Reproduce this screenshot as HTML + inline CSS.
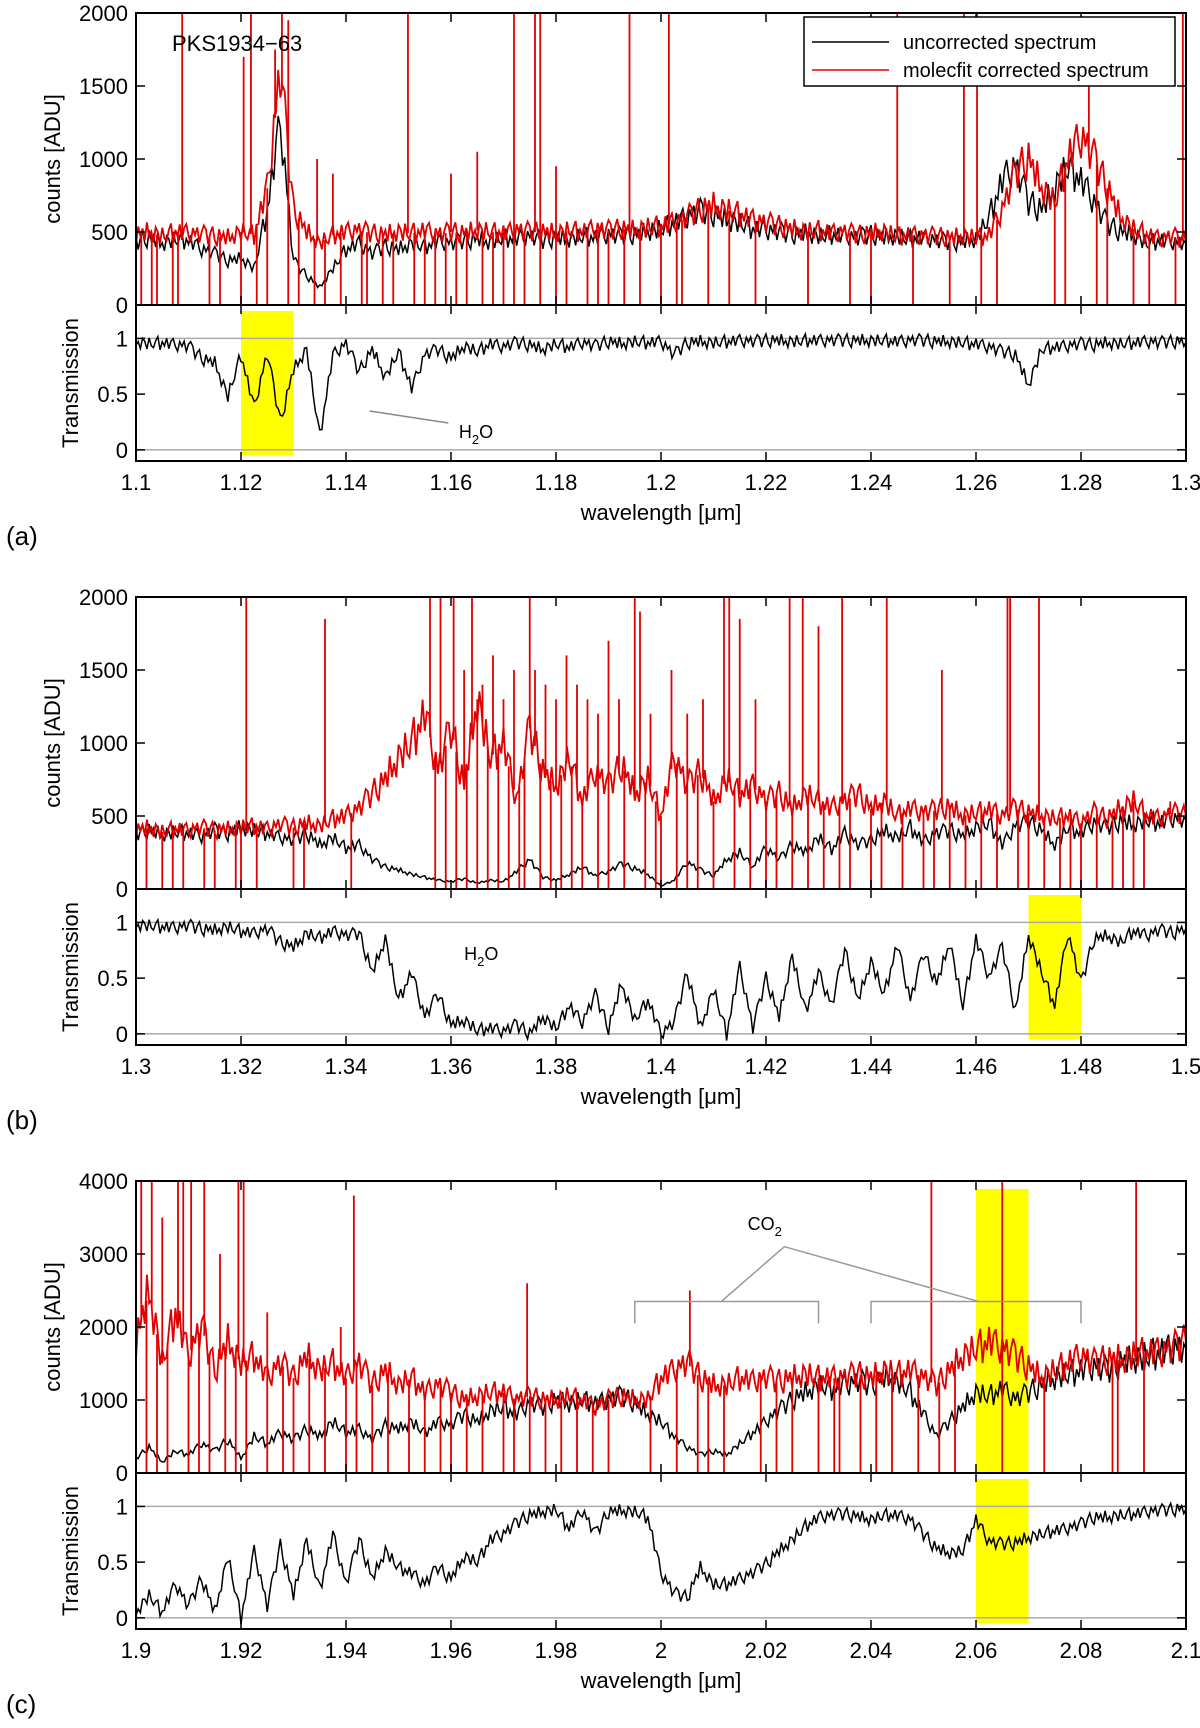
<!DOCTYPE html>
<html><head><meta charset="utf-8"><style>
html,body{margin:0;padding:0;background:#fff;}
svg{display:block;font-family:"Liberation Sans",sans-serif;}
</style></head><body>
<svg id="fig" width="1200" height="1728" viewBox="0 0 1200 1728" xmlns="http://www.w3.org/2000/svg"></svg>
<script>
// ---------- DATA ----------
const aRange=[1.1,1.3], bRange=[1.3,1.5], cRange=[1.9,2.1];
const aTicks=["1.1","1.12","1.14","1.16","1.18","1.2","1.22","1.24","1.26","1.28","1.3"];
const bTicks=["1.3","1.32","1.34","1.36","1.38","1.4","1.42","1.44","1.46","1.48","1.5"];
const cTicks=["1.9","1.92","1.94","1.96","1.98","2","2.02","2.04","2.06","2.08","2.1"];
const abCountTicks=[0,500,1000,1500,2000];
const cCountTicks=[0,1000,2000,3000,4000];
const transTicks=[0,0.5,1];

const aTrans=[.97,.95,.96,.94,.93,.82,.78,.48,.85,.38,.86,.25,.72,.9,.12,.85,.95,.7,.9,.65,.88,.55,.85,.9,.82,.93,.88,.95,.92,.96,.94,.9,.95,.92,.96,.93,.97,.95,.97,.96,.97,.85,.96,.97,.96,.97,.98,.97,.98,.98,.97,.98,.98,.98,.98,.98,.98,.98,.97,.98,.98,.97,.97,.96,.95,.92,.88,.85,.58,.9,.92,.93,.95,.94,.96,.95,.96,.97,.96,.97,.97];
const aBlack=[430,460,420,450,440,380,350,300,320,250,650,1250,300,200,120,250,380,420,350,400,380,420,400,430,420,440,450,430,460,450,470,440,460,450,470,460,480,470,480,500,520,560,600,640,620,580,560,520,510,500,480,490,470,480,470,460,480,460,470,450,460,440,430,430,450,600,850,950,700,650,800,950,850,700,550,500,480,420,440,430,420];
const aRed=[480,500,470,500,490,480,470,460,500,480,800,1600,650,500,420,480,500,510,490,480,500,490,510,480,500,490,510,500,490,510,500,500,490,510,500,520,510,520,510,530,540,560,600,650,680,650,620,580,560,540,520,500,510,490,500,480,490,500,470,480,470,470,460,470,460,480,650,900,1000,800,700,1000,1150,1000,800,600,520,480,450,470,430];
const aSpikeWl=[1.1088,1.1205,1.1219,1.1265,1.1278,1.129,1.1345,1.1375,1.1518,1.16,1.165,1.172,1.176,1.177,1.18,1.194,1.2015,1.245,1.2577,1.2602,1.27,1.2815,1.2994];
const aSpikeVal=[2000,1700,2000,1750,2000,1950,1000,900,2000,900,1050,2000,2000,2000,950,2000,2000,2000,2000,2000,1050,1500,2000];
const aDips=[1.101,1.103,1.104,1.107,1.108,1.114,1.116,1.12,1.123,1.125,1.129,1.131,1.134,1.136,1.139,1.143,1.144,1.147,1.149,1.153,1.155,1.157,1.159,1.161,1.163,1.166,1.168,1.17,1.172,1.174,1.177,1.18,1.182,1.186,1.188,1.19,1.193,1.196,1.2,1.203,1.204,1.209,1.213,1.218,1.228,1.236,1.24,1.248,1.255,1.261,1.264,1.275,1.277,1.283,1.285,1.29,1.293,1.298];

const bTrans=[.98,.97,.96,.95,.97,.94,.93,.96,.92,.9,.94,.82,.78,.9,.86,.92,.88,.9,.55,.85,.3,.55,.15,.35,.08,.12,.03,.05,.02,.08,.0,.15,.05,.25,.1,.35,.05,.45,.12,.3,.0,.1,.55,.05,.4,.0,.6,.05,.5,.15,.7,.2,.55,.25,.75,.3,.65,.35,.8,.3,.72,.45,.82,.25,.85,.5,.78,.2,.88,.55,.25,.9,.45,.85,.88,.82,.92,.88,.93,.9,.95];
const bBlack=[380,400,370,390,380,360,400,380,420,400,380,350,330,380,300,350,280,300,200,150,130,100,80,60,50,70,40,60,50,120,200,80,60,100,150,90,120,170,140,100,20,60,180,130,90,200,250,150,280,200,300,250,350,270,380,300,330,400,350,420,320,380,400,360,420,450,300,430,460,400,300,420,380,450,420,460,440,470,450,480,470];
const bRed=[400,420,390,410,400,420,400,410,420,430,410,440,420,450,430,480,500,550,650,750,900,1000,1200,800,1100,700,1300,900,1000,600,1100,800,700,900,600,800,700,850,650,750,500,900,700,800,600,750,650,700,600,650,550,650,600,550,600,650,550,600,500,550,520,540,560,500,520,540,500,550,520,500,480,500,450,520,480,550,600,500,480,520,500];
const bSpikeWl=[1.321,1.336,1.356,1.358,1.3605,1.3625,1.364,1.366,1.368,1.37,1.372,1.375,1.376,1.378,1.38,1.382,1.384,1.386,1.388,1.39,1.392,1.395,1.396,1.398,1.402,1.405,1.408,1.412,1.413,1.415,1.418,1.4245,1.427,1.43,1.4345,1.443,1.4535,1.466,1.4665,1.472,1.497];
const bSpikeVal=[2000,1850,2000,2000,2000,1500,2000,1400,1600,1300,1500,2000,1500,1400,1300,1600,1400,1300,1200,1700,1300,2000,1900,1200,1500,1200,1300,2000,2000,1850,1300,2000,2000,1800,2000,2000,1500,2000,2000,2000,600];
const bDips=[1.3,1.302,1.305,1.307,1.309,1.313,1.315,1.319,1.32,1.323,1.33,1.332,1.341,1.357,1.359,1.361,1.363,1.365,1.367,1.369,1.371,1.373,1.374,1.377,1.379,1.381,1.383,1.385,1.388,1.39,1.393,1.397,1.399,1.4,1.403,1.405,1.407,1.41,1.414,1.417,1.42,1.422,1.425,1.428,1.431,1.434,1.436,1.44,1.442,1.446,1.45,1.452,1.455,1.458,1.461,1.464,1.468,1.47,1.473,1.476,1.478,1.48,1.483,1.486,1.488,1.49,1.492];

const cTrans=[.05,.2,.05,.3,.1,.35,.05,.55,.0,.6,.1,.65,.2,.7,.25,.75,.3,.7,.35,.6,.45,.4,.3,.45,.35,.55,.5,.7,.75,.85,.92,.95,.97,.8,.96,.75,.95,.96,.95,.9,.4,.22,.18,.45,.3,.3,.35,.4,.48,.6,.7,.82,.9,.92,.93,.91,.88,.92,.92,.88,.75,.62,.58,.6,.88,.68,.66,.67,.72,.75,.78,.8,.84,.9,.9,.92,.93,.95,.96,.97,.98];
const cBlack=[200,350,150,300,250,400,300,450,200,500,400,550,450,600,500,700,550,600,450,650,600,700,550,700,650,800,700,850,900,800,950,900,1000,950,1000,950,1000,1050,950,800,700,500,350,250,300,250,400,550,700,850,1000,1100,1200,1150,1200,1250,1200,1300,1250,1100,800,500,700,900,1100,1050,1150,1000,1100,1200,1300,1350,1400,1450,1400,1500,1550,1600,1650,1700,1700];
const cRed=[1800,2500,1500,2200,1600,2000,1400,1800,1500,1600,1300,1500,1300,1600,1400,1500,1300,1500,1200,1400,1200,1300,1100,1200,1100,1000,1050,1100,1100,1000,1050,1000,1000,1050,1000,900,1000,1050,1000,1000,1300,1400,1500,1300,1200,1200,1300,1250,1300,1250,1300,1350,1300,1300,1300,1350,1300,1400,1350,1400,1300,1200,1400,1600,1700,1800,1700,1600,1450,1300,1400,1500,1600,1500,1550,1550,1600,1650,1650,1700,1800];
const cSpikeWl=[1.901,1.903,1.905,1.908,1.909,1.9105,1.913,1.916,1.9195,1.9205,1.925,1.939,1.9415,1.9745,2.0055,2.0515,2.065,2.0905];
const cSpikeVal=[4000,4000,3500,4000,4000,4000,4000,3000,4000,4000,2200,2000,3800,2600,2500,4000,4000,4000];
const cDips=[1.902,1.904,1.906,1.91,1.912,1.914,1.917,1.919,1.921,1.925,1.928,1.93,1.933,1.936,1.94,1.942,1.945,1.948,1.952,1.955,1.958,1.96,1.963,1.966,1.97,1.972,1.975,1.978,1.981,1.984,1.987,1.99,1.998,2.003,2.007,2.009,2.012,2.019,2.022,2.025,2.03,2.033,2.034,2.038,2.041,2.044,2.049,2.053,2.056,2.065,2.073,2.086,2.087,2.092];
// hand-typed fine structure shared by the sampled curves
const fineTexture=[0.6,-0.9,0.3,1,-0.4,-1,0.8,-0.2,0.5,-0.7,1,-0.5,0.1,-0.9,0.7,0.3,-0.8,0.9,-0.3,-0.6,0.4,1,-1,0.2,-0.4,0.8,-0.7,0.5,0.9,-0.2,-0.9,0.6,-0.1,0.7,-0.8,0.3,1];

// ---------- DRAW ----------
const NS="http://www.w3.org/2000/svg";
const svg=document.getElementById('fig');
function mk(tag,attrs,parent,txt){const e=document.createElementNS(NS,tag);for(const k in attrs)e.setAttribute(k,attrs[k]);if(txt!==undefined)e.textContent=txt;(parent||svg).appendChild(e);return e;}
const L=136,R=1186,SUB=6;

function panel(T,range,ticks,cTicksArr,cMax,trans,black,red,spW,spV,dips,hl,label,key){
  const g=mk('g',{});
  
  
  const x=w=>L+(w-range[0])/(range[1]-range[0])*(R-L);
  const cy=v=>T+292-v/cMax*292;
  const ty=v=>T+292+(1.3-v)/1.4*156;
  const interp=(arr,w)=>{const n=arr.length;const f=(w-range[0])/(range[1]-range[0])*(n-1);const i=Math.max(0,Math.min(n-2,Math.floor(f)));const t=f-i;return arr[i]*(1-t)+arr[i+1]*t;};
  const hT=mk('rect',{x:x(hl[0]),y:T+298,width:x(hl[1])-x(hl[0]),height:144,fill:'#ffff00'},g);
  
  
  if(hl[2]){const hc=mk('rect',{x:x(hl[0]),y:T+8,width:x(hl[1])-x(hl[0]),height:284,fill:'#ffff00'},g);
    
    }
  const cid='clip'+key;
  const cp=mk('clipPath',{id:cid},g);mk('rect',{x:L,y:T,width:R-L,height:292},cp);
  // detailed sampling: data values plus fine structure
  const pts=(arr,f,amp,absAmp,off)=>{const out=[];const n=arr.length;
    for(let i=0;i<n-1;i++){for(let k=0;k<SUB;k++){const t=k/SUB;const v=arr[i]*(1-t)+arr[i+1]*t;
      const tex=fineTexture[(i*SUB+k+off)%fineTexture.length];
      const vv=v+tex*(amp*v+absAmp);
      out.push([x(range[0]+(i+t)*(range[1]-range[0])/(n-1)),f(vv)]);}}
    out.push([x(range[1]),f(arr[n-1])]);return out;};
  const bl=mk('polyline',{points:pts(black,cy,0.14,0,0).map(p=>p.join(',')).join(' '),fill:'none',stroke:'#000','stroke-width':1.5,'clip-path':'url(#'+cid+')'},g);
  
  
  const rl=mk('polyline',{points:pts(red,cy,0.14,0,5).map(p=>p.join(',')).join(' '),fill:'none',stroke:'#e00000','stroke-width':1.8,'clip-path':'url(#'+cid+')'},g);
  
  
  let d='';
  spW.forEach((w,i)=>{d+='M'+x(w)+','+cy(interp(red,w))+'V'+cy(spV[i]);});
  dips.forEach(w=>{d+='M'+x(w)+','+cy(interp(red,w))+'V'+cy(0);});
  const sp=mk('path',{d:d,stroke:'#e00000','stroke-width':1.8,fill:'none','clip-path':'url(#'+cid+')'},g);
  
  
  mk('line',{x1:L,x2:R,y1:ty(1),y2:ty(1),stroke:'#aaa','stroke-width':1.5},g);
  mk('line',{x1:L,x2:R,y1:ty(0),y2:ty(0),stroke:'#aaa','stroke-width':1.5},g);
  const tl=mk('polyline',{points:pts(trans,ty,0,0.06,11).map(p=>p.join(',')).join(' '),fill:'none',stroke:'#000','stroke-width':1.5},g);
  
  
  mk('rect',{x:L,y:T,width:R-L,height:292,fill:'none',stroke:'#000','stroke-width':2},g);
  mk('rect',{x:L,y:T+292,width:R-L,height:156,fill:'none',stroke:'#000','stroke-width':2},g);
  ticks.forEach((t,i)=>{const xx=L+i*(R-L)/(ticks.length-1);
    [[T,1],[T+292,-1],[T+292,1],[T+448,-1]].forEach(([yy,s])=>mk('line',{x1:xx,x2:xx,y1:yy,y2:yy+s*9,stroke:'#000','stroke-width':1.5},g));
    const tx=mk('text',{x:xx,y:T+477,'font-size':22,'text-anchor':'middle'},g,t);
    
    
  });
  cTicksArr.forEach(v=>{const yy=cy(v);
    mk('line',{x1:L,x2:L+9,y1:yy,y2:yy,stroke:'#000','stroke-width':1.5},g);
    mk('line',{x1:R,x2:R-9,y1:yy,y2:yy,stroke:'#000','stroke-width':1.5},g);
    const tx=mk('text',{x:L-8,y:yy+8,'font-size':22,'text-anchor':'end'},g,String(v));
    
    
  });
  transTicks.forEach(v=>{const yy=ty(v);
    mk('line',{x1:L,x2:L+9,y1:yy,y2:yy,stroke:'#000','stroke-width':1.5},g);
    mk('line',{x1:R,x2:R-9,y1:yy,y2:yy,stroke:'#000','stroke-width':1.5},g);
    const tx=mk('text',{x:L-8,y:yy+8,'font-size':22,'text-anchor':'end'},g,String(v));
    
    
  });
  const yl=mk('text',{x:0,y:0,'font-size':22,'text-anchor':'middle',transform:'translate(60,'+(T+146)+') rotate(-90)'},g,'counts [ADU]');
  
  
  const y2=mk('text',{x:0,y:0,'font-size':22,'text-anchor':'middle',transform:'translate(78,'+(T+370)+') rotate(-90)'},g,'Transmission');
  
  
  const xl=mk('text',{x:(L+R)/2,y:T+507,'font-size':22,'text-anchor':'middle'},g,'wavelength [\u03bcm]');
  
  
  const pl=mk('text',{x:6,y:T+532,'font-size':26},g,label);
  
  
  return {x,cy,ty,g};
}

const pa=panel(13,aRange,aTicks,abCountTicks,2000,aTrans,aBlack,aRed,aSpikeWl,aSpikeVal,aDips,[1.12,1.13,false],'(a)','a');
const pb=panel(597,bRange,bTicks,abCountTicks,2000,bTrans,bBlack,bRed,bSpikeWl,bSpikeVal,bDips,[1.47,1.48,false],'(b)','b');
const pc=panel(1181,cRange,cTicks,cCountTicks,4000,cTrans,cBlack,cRed,cSpikeWl,cSpikeVal,cDips,[2.06,2.07,true],'(c)','c');

const on=mk('text',{x:172,y:51,'font-size':22},null,'PKS1934\u221263');


const lg=mk('g',{});


mk('rect',{x:804,y:17,width:371,height:69,fill:'#fff',stroke:'#000','stroke-width':1.5},lg);
mk('line',{x1:812,x2:889,y1:42,y2:42,stroke:'#000','stroke-width':1.5},lg);
mk('line',{x1:812,x2:889,y1:70,y2:70,stroke:'#e00000','stroke-width':1.5},lg);
const le1=mk('text',{x:903,y:49,'font-size':20},lg,'uncorrected spectrum');


const le2=mk('text',{x:903,y:77,'font-size':20},lg,'molecfit corrected spectrum');



function sub(xx,yy,base,s,name){const t=mk('text',{x:xx,y:yy,'font-size':18},null);
  
  
  mk('tspan',{},t,base.slice(0,1));mk('tspan',{'font-size':13,dy:6},t,s);mk('tspan',{dy:-6},t,base.slice(1));}
mk('line',{x1:pa.x(1.1445),y1:411,x2:pa.x(1.1595),y2:423,stroke:'#888','stroke-width':1.5});
sub(pa.x(1.1615),438,'HO','2','h2o-annotation-a');
sub(pb.x(1.3625),960,'HO','2','h2o-annotation-b');
const gy=pc.cy(2350), gyd=pc.cy(2050), ay=pc.cy(3100);
let bd='M'+pc.x(1.995)+','+gyd+'V'+gy+'H'+pc.x(2.03)+'V'+gyd+'M'+pc.x(2.04)+','+gyd+'V'+gy+'H'+pc.x(2.08)+'V'+gyd;
bd+='M'+pc.x(2.0115)+','+gy+'L'+pc.x(2.0235)+','+ay+'L'+pc.x(2.0605)+','+gy;
const br=mk('path',{d:bd,stroke:'#999','stroke-width':1.5,fill:'none'});


const co=mk('text',{x:pc.x(2.0165),y:1230,'font-size':18},null);


mk('tspan',{},co,'CO');mk('tspan',{'font-size':13,dy:6},co,'2');
</script>
</body></html>
